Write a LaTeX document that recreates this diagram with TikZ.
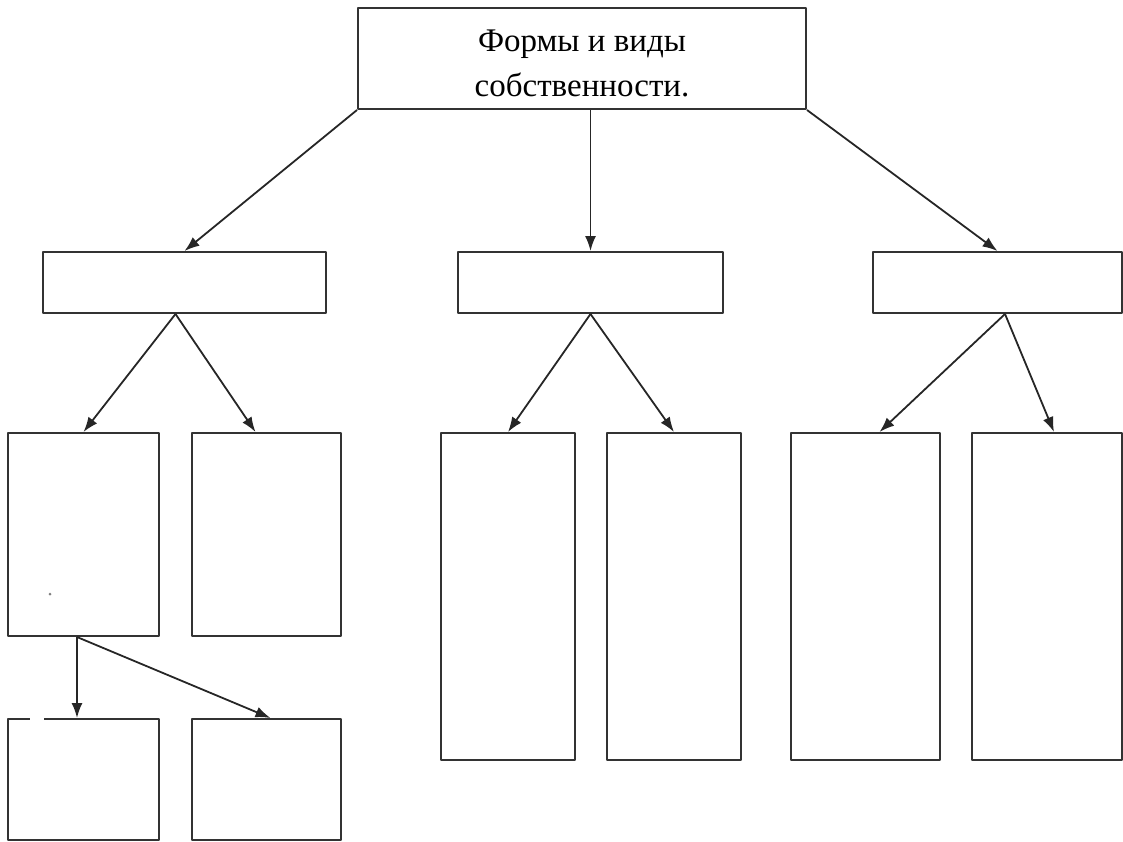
\documentclass[tikz,border=0pt]{standalone}
\usepackage{fontspec}
\setmainfont{Liberation Serif}
\usetikzlibrary{arrows.meta,calc}
\begin{document}
\begin{tikzpicture}[>={Latex[length=15pt,width=11pt]},line join=bevel,x=1pt,y=-1pt,
  box/.style={draw,line width=2pt,inner sep=0pt,draw=black!80},
  link/.style={black!85,->,line width=1.8pt}]
%%
\useasboundingbox (0,0) rectangle (1123,841);
\node (forms) at (582,58.5) [box,minimum width=448pt,minimum height=101pt,align=center,
  font=\fontsize{33}{45}\selectfont] {\rule{0pt}{32pt}Формы и виды\\собственности.};
  \node (kindL) at (184.5,282.5) [box,minimum width=283pt,minimum height=61pt] {};
  \node (kindM) at (590.5,282.5) [box,minimum width=265pt,minimum height=61pt] {};
  \node (kindR) at (997.5,282.5) [box,minimum width=249pt,minimum height=61pt] {};
%
  \node (LA) at (83.5,534.5) [box,minimum width=151pt,minimum height=203pt] {};
  \node (LB) at (266.5,534.5) [box,minimum width=149pt,minimum height=203pt] {};
  \node (MA) at (508,596.5) [box,minimum width=134pt,minimum height=327pt] {};
  \node (MB) at (674,596.5) [box,minimum width=134pt,minimum height=327pt] {};
  \node (RA) at (865.5,596.5) [box,minimum width=149pt,minimum height=327pt] {};
  \node (RB) at (1047,596.5) [box,minimum width=150pt,minimum height=327pt] {};
%
  \node (LLA) at (83.5,779.5) [box,minimum width=151pt,minimum height=121pt] {};
  \node (LLB) at (266.5,779.5) [box,minimum width=149pt,minimum height=121pt] {};
  \draw [white,line width=3.5pt] (30,719) -- (44,719);
  \fill [gray] (50,594) circle (1.5pt);
%
  \coordinate (kindL-out) at ($(kindL.south)+(-9,0)$);
  \coordinate (LA-out) at ($(LA.south)+(-6.5,0)$);
  \draw [link] (forms.south west) -- (kindL.north);
  \draw [link] (forms.south -| kindM.north) -- (kindM.north);
  \draw [link] (forms.south east) -- (kindR.north);
  \draw [link] (kindL-out) -- (LA.north);
  \draw [link] (kindL-out) -- ($(LB.north)+(-11,0)$);
  \draw [link] (kindM.south) -- (MA.north);
  \draw [link] (kindM.south) -- (MB.north);
  \draw [link] ($(kindR.south)+(7.5,0)$) -- ($(RA.north)+(14,0)$);
  \draw [link] ($(kindR.south)+(7.5,0)$) -- ($(RB.north)+(7,0)$);
  \draw [link] (LA-out) -- (LA-out |- LLA.north);
  \draw [link] (LA-out) -- ($(LLB.north)+(4,0)$);
%
\end{tikzpicture}
\end{document}
